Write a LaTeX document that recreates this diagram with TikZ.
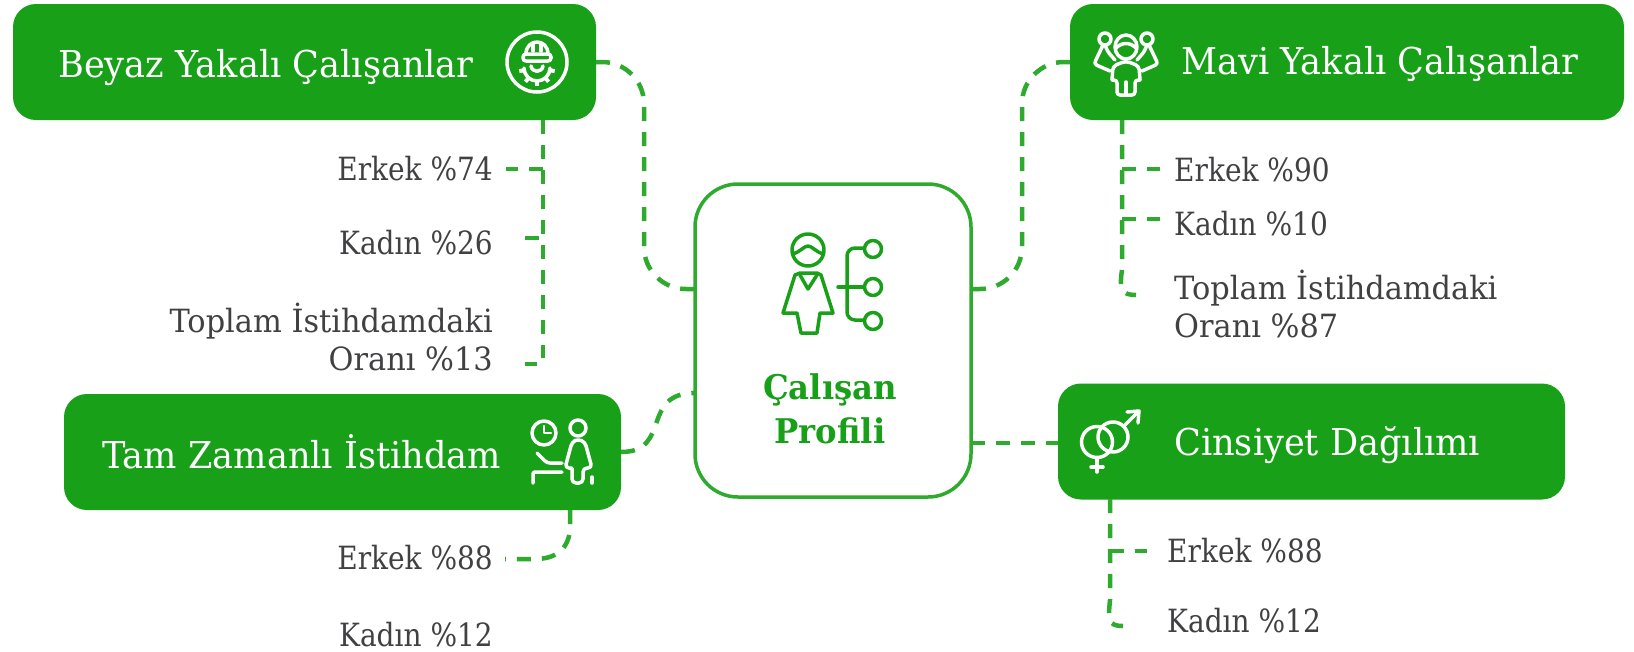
\documentclass[tikz,border=0pt]{standalone}
\usepackage{fontspec}
\setmainfont[FakeStretch=0.95]{DejaVu Serif}
\newfontfamily\kisafont[FakeStretch=0.875]{DejaVu Serif}
\definecolor{yesil}{RGB}{23,160,24}
\definecolor{cizgi}{RGB}{46,170,46}
\definecolor{metin}{RGB}{65,64,66}

\begin{document}
\begin{tikzpicture}[x=1pt, y=-1pt,
    kutu/.style={fill=yesil, rounded corners=23pt, minimum height=116pt, inner sep=0pt, outer sep=0pt},
    kutuyazi/.style={text=white, anchor=base west, inner sep=0pt, font=\fontsize{37}{44}\selectfont},
    liste/.style={text=metin, inner sep=0pt, font=\fontsize{32}{38}\selectfont},
    kisa/.style={text=metin, inner sep=0pt, font=\kisafont\fontsize{32}{38}\selectfont},
    baglanti/.style={cizgi, line width=4.5pt, dash pattern=on 14pt off 11pt},
    ikon/.style={white, line width=3.5pt, line cap=round, line join=round},
    yesilikon/.style={yesil, line width=3.5pt, line cap=round, line join=round}]
    \useasboundingbox (0,0) rectangle (1634,651);

    \node[kutu, minimum width=583pt] (beyaz) at (304.5,62) {};
    \node[kutu, minimum width=554pt] (mavi) at (1347,62) {};
    \node[kutu, minimum width=557pt] (tam) at (342.5,452) {};
    \node[kutu, minimum width=507pt] (cinsiyet) at (1311.5,441.5) {};
    \node[draw=cizgi, line width=3.5pt, fill=white, rounded corners=43pt, minimum width=276pt, minimum height=313pt, inner sep=0pt, outer sep=0pt] (profil) at (833,340.5) {};

    \node[kutuyazi] (beyazyazi) at (58,77) {Beyaz Yakalı Çalışanlar};
    \node[kutuyazi] (maviyazi) at (1181,74) {Mavi Yakalı Çalışanlar};
    \node[kutuyazi] (tamyazi) at (102,468) {Tam Zamanlı İstihdam};
    \node[kutuyazi] (cinsiyetyazi) at (1174,455) {Cinsiyet Dağılımı};
    \node[text=yesil, inner sep=0pt, align=center, font=\fontsize{34}{44}\selectfont\bfseries] (profilyazi) at (830,409) {Çalışan\\Profili};

    \node[kisa, anchor=base east] (erkekA) at (493,180) {Erkek \%74};
    \node[kisa, anchor=base east] (kadinA) at (493,254) {Kadın \%26};
    \node[liste, anchor=east, align=right] (toplamA) at (493,337) {Toplam İstihdamdaki\\Oranı \%13};
    \node[kisa, anchor=base east] (erkekB) at (493,569) {Erkek \%88};
    \node[kisa, anchor=base east] (kadinB) at (493,646) {Kadın \%12};
    \node[kisa, anchor=base west] (erkekC) at (1174,181) {Erkek \%90};
    \node[kisa, anchor=base west] (kadinC) at (1174,235) {Kadın \%10};
    \node[liste, anchor=west, align=left] (toplamC) at (1174,304) {Toplam İstihdamdaki\\Oranı \%87};
    \node[kisa, anchor=base west] (erkekD) at (1167,562) {Erkek \%88};
    \node[kisa, anchor=base west] (kadinD) at (1167,632) {Kadın \%12};

    \coordinate (solust) at (695,289);
    \coordinate (solalt) at (695,393);
    \coordinate (sagust) at (971,289);
    \coordinate (sagalt) at (971,443);
    \coordinate (beyazdal) at (543,120);
    \coordinate (mavidal) at (1122,120);
    \coordinate (tamdal) at (570,510);
    \coordinate (cinsiyetdal) at (1110,499);
    \coordinate (erkekAuc) at (506,169);
    \coordinate (kadinAuc) at (525,238);
    \coordinate (toplamAuc) at (525,364);
    \coordinate (erkekCuc) at (1160,169);
    \coordinate (kadinCuc) at (1160,219);
    \coordinate (toplamCuc) at (1136,295);
    \coordinate (erkekBuc) at (505,559);
    \coordinate (erkekDuc) at (1147,551);
    \coordinate (kadinDuc) at (1123,626);

    \draw[baglanti, rounded corners=42pt] (beyaz.east) -| (644,289) -- (solust);
    \draw[baglanti, rounded corners=42pt] (mavi.west) -| (1022,289) -- (sagust);
    \draw[baglanti] (tam.east) .. controls (672,452) and (640,393) .. (solalt);
    \draw[baglanti] (sagalt) -- (sagalt -| cinsiyet.west);

    \draw[baglanti] (beyazdal) -- (543,358);
    \draw[baglanti] (toplamAuc) -- ([xshift=12pt]toplamAuc);
    \draw[baglanti] (erkekAuc -| beyazdal) -- (erkekAuc);
    \draw[baglanti] (kadinAuc) -- (kadinAuc -| beyazdal);

    \draw[baglanti] (mavidal) -- (1122,270) .. controls (1119,290) and (1122,295) .. (toplamCuc);
    \draw[baglanti] (erkekCuc -| mavidal) -- (erkekCuc);
    \draw[baglanti] (kadinCuc -| mavidal) -- (kadinCuc);

    \draw[baglanti] (tamdal) -- (570,530) .. controls (568,550) and (555,559) .. (535,559) -- (erkekBuc);

    \draw[baglanti] (cinsiyetdal) -- (1110,600) .. controls (1108,620) and (1108,626) .. (kadinDuc);
    \draw[baglanti] (erkekDuc -| cinsiyetdal) -- (erkekDuc);

    \draw[ikon] (537,62) circle (30);
    \draw[ikon, rounded corners=3pt] (523,54) rectangle (551,61);
    \draw[ikon] (526,54) .. controls (526,38) and (548,38) .. (548,54);
    \draw[ikon] (533,44) -- (533,51);
    \draw[ikon] (541,44) -- (541,51);
    \draw[ikon] (550,68) arc (0:180:13);
    \foreach \a in {10,50,90,130,170}
        \draw[ikon, line width=4pt, line cap=butt] (537,68) ++(\a:12) -- ++(\a:6);
    \draw[ikon] (531,66) .. controls (532,73) and (542,73) .. (543,66);

    \draw[ikon] (1126,47) ellipse (11 and 12);
    \draw[ikon] (1116,48) .. controls (1122,42) and (1130,42) .. (1136,48);
    \draw[ikon, rounded corners=4pt] (1112,80) -- (1113,66) -- (1126,61) -- (1139,66) -- (1140,80);
    \draw[ikon, rounded corners=3pt] (1112,80) -- (1117,80) -- (1117,95) -- (1135,95) -- (1135,80) -- (1140,80);
    \draw[ikon] (1126,82) -- (1126,94);
    \draw[ikon] (1105,39) circle (6);
    \draw[ikon] (1147,39) circle (6);
    \draw[ikon, rounded corners=3pt] (1105,45) -- (1108,52) -- (1115,60);
    \draw[ikon, rounded corners=3pt] (1103,45) -- (1094,64) -- (1110,71);
    \draw[ikon, rounded corners=3pt] (1147,45) -- (1144,52) -- (1137,60);
    \draw[ikon, rounded corners=3pt] (1149,45) -- (1158,64) -- (1142,71);

    \draw[ikon] (544,433) circle (12);
    \draw[ikon, line width=2.5pt] (544,426) -- (544,433) -- (551,433);
    \draw[ikon] (578,428) circle (8);
    \draw[ikon, rounded corners=4pt] (572,468) -- (565,468) -- (572,442) -- (578,439) -- (585,442) -- (592,468) -- (583,468) -- (583,483) -- (572,483) -- (572,468);
    \draw[ikon] (592,477) -- (592,483);
    \draw[ikon, rounded corners=3pt] (537,453) -- (547,463) -- (562,463);
    \draw[ikon, rounded corners=2pt] (533,483) -- (533,472) -- (562,472);

    \draw[ikon] (1097,442) circle (15.5);
    \draw[ikon] (1113,437) circle (15);
    \draw[ikon] (1097,458) -- (1097,472);
    \draw[ikon] (1091,467) -- (1103,467);
    \draw[ikon] (1124,426) -- (1139,411);
    \draw[ikon] (1127,412) -- (1139,411) -- (1138,423);

    \draw[yesilikon] (808,250) circle (16);
    \draw[yesilikon] (793,254) .. controls (800,252) and (804,246) .. (808,246) .. controls (812,246) and (816,252) .. (823,254);
    \draw[yesilikon] (783,313) -- (795,275) -- (800,273) -- (817,273) -- (821,275) -- (833,313) -- (820,313) -- (817,333) -- (801,333) -- (797,313) -- cycle;
    \draw[yesilikon] (800,275) -- (808,289) -- (817,275);
    \draw[yesilikon] (838,287) -- (864,287);
    \draw[yesilikon, rounded corners=8pt] (864,248) -- (847,248) -- (847,320) -- (864,320);
    \draw[yesilikon] (873,249) circle (8.5);
    \draw[yesilikon] (873,287) circle (8.5);
    \draw[yesilikon] (873,321) circle (8.5);
\end{tikzpicture}
\end{document}
